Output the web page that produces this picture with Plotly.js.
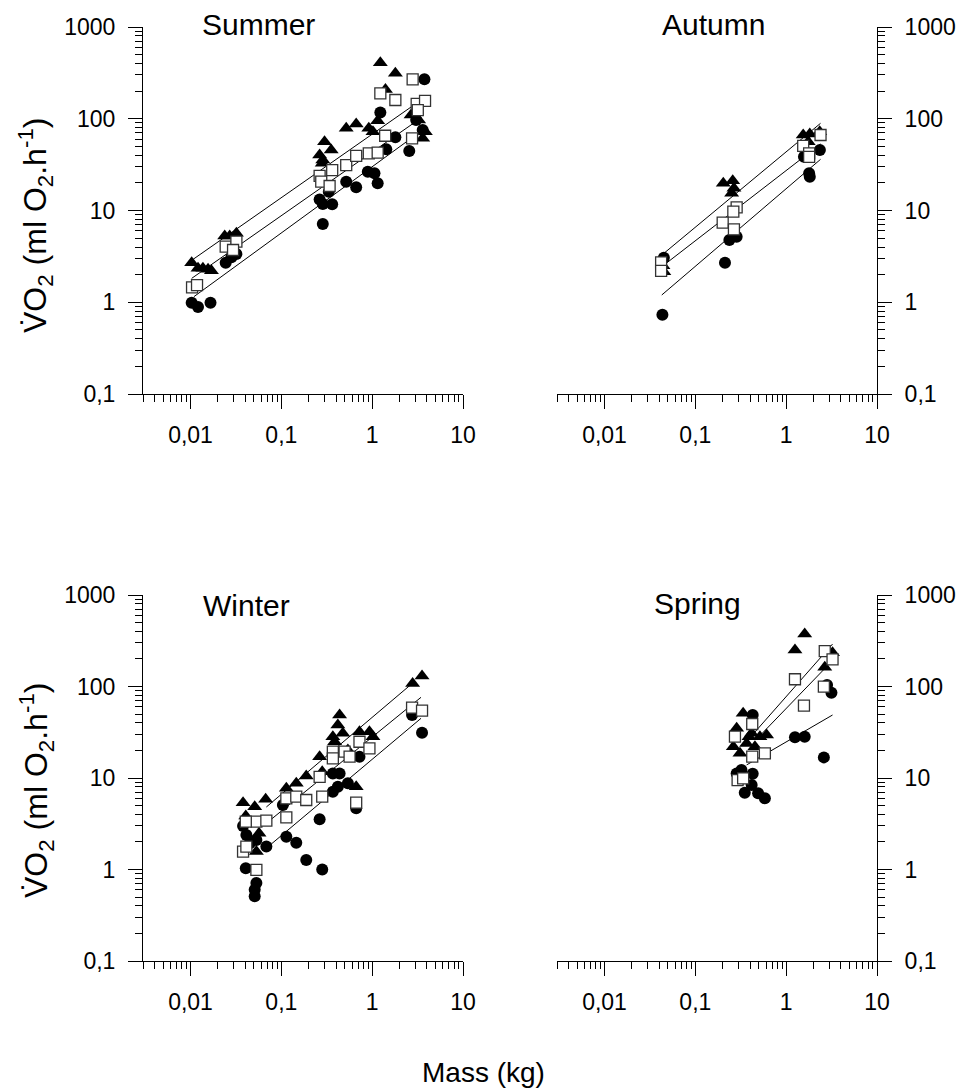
<!DOCTYPE html>
<html>
<head>
<meta charset="utf-8">
<script src="https://cdn.plot.ly/plotly-3.0.1.min.js"></script>
<style>html,body{margin:0;padding:0;background:#fff;}#chart{width:967px;height:1089px;}</style>
</head>
<body>
<div id="chart"></div>
<script>
// ---------- tick labels ----------
const xTickVals = [0.01, 0.1, 1, 10];
const xTickText = ['0,01', '0,1', '1', '10'];
const yTickVals = [0.1, 1, 10, 100, 1000];
const yTickText = ['0,1', '1', '10', '100', '1000'];
const panelTitles = ['Summer', 'Autumn', 'Winter', 'Spring'];

// ---------- Summer ----------
const summerTriMass = [0.0103,0.0121,0.0137,0.0156,0.0170,0.0238,0.0270,0.0320,0.264,0.286,0.299,0.354,0.282,0.518,0.667,0.918,1.02,1.15,1.23,1.40,1.80,2.68,3.25,3.60,3.85];
const summerTriVO2  = [2.7,2.35,2.35,2.29,2.21,5.27,5.27,5.64,40.3,35.5,56.2,45.6,32.7,78.7,87.7,78.7,72.3,95.2,408,209,313,110,96.9,61.2,72.3];
const summerSqMass  = [0.0104,0.0118,0.0244,0.0320,0.0294,0.264,0.275,0.340,0.363,0.518,0.667,0.918,1.15,1.39,1.23,1.80,2.79,3.09,3.82,2.75,3.18];
const summerSqVO2   = [1.45,1.54,4.03,4.57,3.71,23.8,20.6,18.5,27.6,31.3,39.3,42.0,42.7,65.3,189,160,269,145,157,61.2,124];
const summerCirMass = [0.0103,0.0121,0.0166,0.0244,0.0282,0.0320,0.264,0.286,0.363,0.286,0.333,0.518,0.667,0.895,1.06,1.15,1.23,1.43,1.80,2.56,3.05,3.60,3.76];
const summerCirVO2  = [0.99,0.89,0.99,2.7,3.09,3.36,13.2,11.8,11.7,7.13,16.0,20.6,17.9,26.5,25.4,19.8,117,46.5,62.8,44.5,96.9,75.4,269];
const summerTriLineMass = [0.0107, 2.79];
const summerTriLineVO2  = [2.94, 138];
const summerSqLineMass  = [0.0103, 3.45];
const summerSqLineVO2   = [1.82, 102];
const summerCirLineMass = [0.0109, 3.85];
const summerCirLineVO2  = [1.15, 79.3];

// ---------- Autumn ----------
const autumnTriMass = [0.045,0.044,0.203,0.258,0.266,0.251,1.54,1.82,2.34,1.75];
const autumnTriVO2  = [2.15,2.5,19.8,21.1,17.5,15.4,66.5,68.2,72.3,56.2];
const autumnSqMass  = [0.042,0.042,0.285,0.262,0.200,0.266,1.54,1.79,2.39,1.79];
const autumnSqVO2   = [2.72,2.2,10.8,9.7,7.36,6.24,50.5,42.0,66.5,38.5];
const autumnCirMass = [0.045,0.0434,0.237,0.285,0.212,1.57,2.35,1.79,1.82];
const autumnCirVO2  = [3.05,0.73,4.77,5.18,2.70,38.6,45.6,25.4,23.3];
const autumnTriLineMass = [0.045, 2.39];
const autumnTriLineVO2  = [3.41, 89.2];
const autumnSqLineMass  = [0.0427, 2.39];
const autumnSqLineVO2   = [2.44, 53.1];
const autumnCirLineMass = [0.0427, 2.39];
const autumnCirLineVO2  = [1.20, 36.1];

// ---------- Winter ----------
const winterTriMass = [0.0379,0.0509,0.0672,0.0406,0.0568,0.0531,0.1135,0.146,0.188,0.264,0.282,0.438,0.419,0.369,0.475,0.540,0.725,0.933,0.667,2.79,3.54,0.386,1.02];
const winterTriVO2  = [5.37,4.86,5.85,3.85,2.49,1.57,7.71,8.75,10.5,17.1,11.7,48.8,37.9,28.3,30.8,20.2,32.1,32.1,8.03,108,130,24.9,28.3];
const winterSqMass  = [0.0379,0.0412,0.0531,0.0684,0.0406,0.0531,0.1135,0.1135,0.146,0.188,0.264,0.282,0.369,0.369,0.497,0.564,0.725,0.933,0.667,2.75,3.54];
const winterSqVO2   = [1.57,1.78,3.33,3.42,3.33,0.99,3.72,6.0,6.25,5.75,10.3,6.25,19.4,16.4,19.4,17.1,24.9,21.1,5.37,58.7,54.4];
const winterCirMass = [0.0379,0.0412,0.0449,0.0531,0.0684,0.0406,0.0531,0.0509,0.0509,0.1135,0.146,0.188,0.264,0.282,0.369,0.419,0.438,0.540,0.725,0.667,2.75,3.54,0.104,0.369];
const winterCirVO2  = [2.99,2.38,1.93,2.10,1.78,1.03,0.71,0.60,0.51,2.28,1.96,1.27,3.54,1.0,7.08,8.03,11.2,8.75,17.1,4.67,48.8,31.3,5.07,11.2];
const winterTriLineMass = [0.0684, 2.64];
const winterTriLineVO2  = [4.82, 104];
const winterSqLineMass  = [0.0684, 3.45];
const winterSqLineVO2   = [3.2, 76.2];
const winterCirLineMass = [0.0713, 3.45];
const winterCirLineVO2  = [1.77, 44.9];

// ---------- Spring ----------
const springTriMass = [1.60,1.25,3.24,2.66,0.336,0.285,0.417,0.514,0.609,0.262,0.310,0.367,0.453,0.390];
const springTriVO2  = [375,251,234,162,50.9,34.9,30.8,28.3,29.5,22.0,18.6,23.9,22.0,28.3];
const springSqMass  = [2.66,3.24,1.25,1.57,2.60,0.423,0.273,0.583,0.423,0.292,0.336];
const springSqVO2   = [244,198,120,61.7,99.5,38.9,28.3,18.6,17.1,9.5,9.9];
const springCirMass = [0.428,2.82,3.15,1.25,1.60,2.60,0.285,0.322,0.428,0.35,0.417,0.491,0.583];
const springCirVO2  = [48.8,104,85.5,27.9,28.3,16.8,11.2,12.2,11.1,6.9,8.4,6.8,6.0];
const springSqLineMass  = [0.434, 3.24];
const springSqLineVO2   = [30.3, 291];
const springTriLineMass = [0.462, 3.02];
const springTriLineVO2  = [26.0, 179];
const springCirLineMass = [0.367, 3.24];
const springCirLineVO2  = [13.9, 48.8];

// ---------- build ----------
const W = 967, H = 1089;
const FONT = 'Arial, "Liberation Sans", sans-serif';

function minorVals(lo, hi, kmin, kmax) {
  const v = [];
  for (let k = kmin; k <= kmax; k++) for (let m = 2; m <= 9; m++) {
    const t = m * Math.pow(10, k);
    if (t >= lo && t <= hi) v.push(t);
  }
  return v;
}
const xMinor = minorVals(0.0029, 10, -3, 0);
const yMinor = minorVals(0.1, 1000, -1, 2);

const panels = [
  {sets: [[summerCirMass, summerCirVO2, 'c'], [summerTriMass, summerTriVO2, 't'], [summerSqMass, summerSqVO2, 's']],
   lines: [[summerTriLineMass, summerTriLineVO2], [summerSqLineMass, summerSqLineVO2], [summerCirLineMass, summerCirLineVO2]]},
  {sets: [[autumnCirMass, autumnCirVO2, 'c'], [autumnTriMass, autumnTriVO2, 't'], [autumnSqMass, autumnSqVO2, 's']],
   lines: [[autumnTriLineMass, autumnTriLineVO2], [autumnSqLineMass, autumnSqLineVO2], [autumnCirLineMass, autumnCirLineVO2]]},
  {sets: [[winterCirMass, winterCirVO2, 'c'], [winterTriMass, winterTriVO2, 't'], [winterSqMass, winterSqVO2, 's']],
   lines: [[winterTriLineMass, winterTriLineVO2], [winterSqLineMass, winterSqLineVO2], [winterCirLineMass, winterCirLineVO2]]},
  {sets: [[springCirMass, springCirVO2, 'c'], [springTriMass, springTriVO2, 't'], [springSqMass, springSqVO2, 's']],
   lines: [[springSqLineMass, springSqLineVO2], [springTriLineMass, springTriLineVO2], [springCirLineMass, springCirLineVO2]]}
];

const markerStyle = {
  c: {symbol: 'circle', size: 12, color: '#000', line: {width: 0}},
  t: {symbol: 'triangle-up', size: 13, color: '#000', line: {width: 0}},
  s: {symbol: 'square', size: 11, color: '#fff', line: {width: 1.3, color: '#333'}}
};

const traces = [];
panels.forEach((p, i) => {
  const ax = i === 0 ? '' : String(i + 1);
  p.lines.forEach(l => traces.push({x: l[0], y: l[1], mode: 'lines', type: 'scatter',
    line: {color: '#000', width: 1}, xaxis: 'x' + ax, yaxis: 'y' + ax, hoverinfo: 'skip'}));
  p.sets.forEach(s => traces.push({x: s[0], y: s[1], mode: 'markers', type: 'scatter',
    marker: markerStyle[s[2]], xaxis: 'x' + ax, yaxis: 'y' + ax, hoverinfo: 'skip'}));
});

const px = v => v / W;
const py = v => 1 - v / H;

function xAxis(d0, d1, anchor) {
  return {type: 'log', range: [-2.523, 1], domain: [px(d0), px(d1)], anchor: anchor,
    tickmode: 'array', tickvals: xTickVals, ticktext: xTickText,
    ticks: 'outside', ticklen: 14, tickwidth: 1, tickcolor: '#000',
    minor: {tickmode: 'array', tickvals: xMinor, ticks: 'outside', ticklen: 7, tickwidth: 1, tickcolor: '#000', showgrid: false},
    showline: true, linecolor: '#000', linewidth: 1, showgrid: false, zeroline: false,
    tickfont: {family: FONT, size: 23, color: '#000'}, ticklabelstandoff: 6, fixedrange: true};
}
function yAxis(t, b, anchor, side) {
  return {type: 'log', range: [-1, 3], domain: [py(b), py(t)], anchor: anchor, side: side,
    tickmode: 'array', tickvals: yTickVals, ticktext: yTickText,
    ticks: 'outside', ticklen: 14, tickwidth: 1, tickcolor: '#000',
    minor: {tickmode: 'array', tickvals: yMinor, ticks: 'outside', ticklen: 7, tickwidth: 1, tickcolor: '#000', showgrid: false},
    showline: true, linecolor: '#000', linewidth: 1, showgrid: false, zeroline: false,
    tickfont: {family: FONT, size: 23, color: '#000'}, ticklabelstandoff: 8, fixedrange: true};
}

const yTitle = 'V\u0307O<sub>2</sub> (ml O<sub>2</sub>.h<sup>-1</sup>)';
const ann = (text, x, y, size, extra) => Object.assign({text: text, xref: 'paper', yref: 'paper',
  x: px(x), y: py(y), xanchor: 'center', yanchor: 'middle', showarrow: false,
  font: {family: FONT, size: size, color: '#000'}}, extra || {});

const layout = {
  width: W, height: H, margin: {l: 0, r: 0, t: 0, b: 0},
  paper_bgcolor: '#fff', plot_bgcolor: 'rgba(0,0,0,0)', showlegend: false,
  xaxis:  xAxis(143, 463, 'y'),
  yaxis:  yAxis(27, 394, 'x', 'left'),
  xaxis2: xAxis(557, 877, 'y2'),
  yaxis2: yAxis(27, 394, 'x2', 'right'),
  xaxis3: xAxis(143, 463, 'y3'),
  yaxis3: yAxis(595, 961, 'x3', 'left'),
  xaxis4: xAxis(557, 877, 'y4'),
  yaxis4: yAxis(595, 961, 'x4', 'right'),
  annotations: [
    ann(panelTitles[0], 258, 24, 30),
    ann(panelTitles[1], 713, 24, 30),
    ann(panelTitles[2], 246, 605, 30),
    ann(panelTitles[3], 697, 603, 30),
    ann(yTitle, 36, 225, 32, {textangle: -90}),
    ann(yTitle, 36, 790, 32, {textangle: -90}),
    ann('Mass (kg)', 483, 1072, 28)
  ]
};

Plotly.newPlot('chart', traces, layout, {staticPlot: true, displayModeBar: false});
</script>
</body>
</html>
